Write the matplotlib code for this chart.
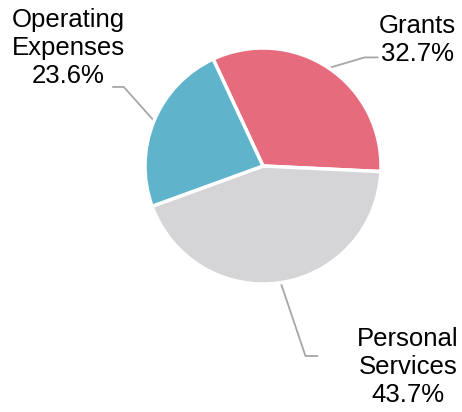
import numpy as np
import matplotlib.pyplot as plt

plt.rcParams['font.family'] = ['Liberation Sans', 'DejaVu Sans']

# spending shares
labels = ["Grants", "Personal\nServices", "Operating\nExpenses"]
shares = [32.7, 43.7, 23.6]
colors = ["#E56B7D", "#D5D5D7", "#5FB3CB"]

# label placement: text centre, leader elbow, end of horizontal tail (data units, pie radius = 1)
text_pos = [(1.31, 1.07), (1.23, -1.705), (-1.65, 1.00)]
elbows = [(0.86, 0.92), (0.36, -1.61), (-1.18, 0.67)]
tails = [(0.97, 0.92), (0.46, -1.61), (-1.27, 0.67)]

W, H = 462, 412
cx, cy, r = 263, 166, 118

fig = plt.figure(figsize=(W / 100, H / 100), dpi=100)
ax = fig.add_axes([0, 0, 1, 1])

wedges, _ = ax.pie(shares, colors=colors, startangle=115, counterclock=False,
                   radius=1.0, center=(0, 0), frame=True,
                   wedgeprops=dict(edgecolor='white', linewidth=2.5))
ax.set_xlim(-cx / r, (W - cx) / r)
ax.set_ylim((cy - H) / r, cy / r)
ax.set_aspect('auto')
ax.axis('off')

for w, lab, v, tp, el, tl in zip(wedges, labels, shares, text_pos, elbows, tails):
    mid = np.deg2rad((w.theta1 + w.theta2) / 2)
    x0, y0 = np.cos(mid), np.sin(mid)
    ax.plot([x0, el[0], tl[0]], [y0, el[1], tl[1]], color='#A6A6A6', lw=1.3,
            solid_joinstyle='miter', zorder=0)
    ax.text(tp[0], tp[1], f"{lab}\n{v:.1f}%", ha='center', va='center',
            multialignment='center', fontsize=18.5, color='black',
            linespacing=1.2)

fig.savefig('out.png', dpi=100)
